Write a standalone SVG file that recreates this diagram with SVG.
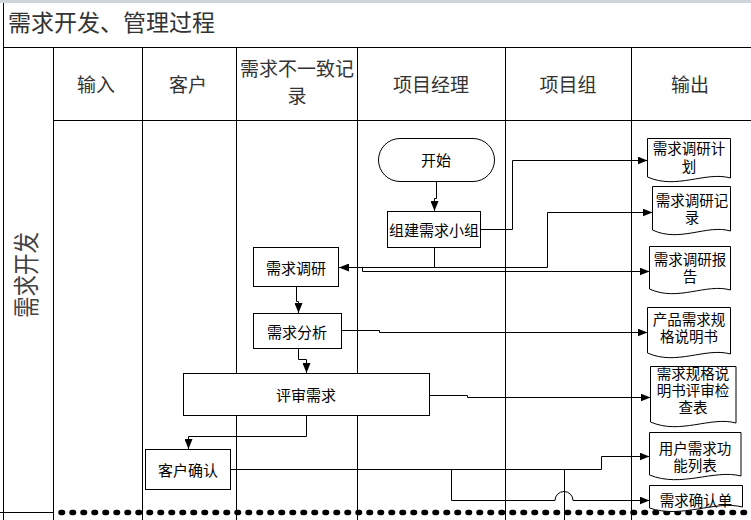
<svg xmlns="http://www.w3.org/2000/svg" width="751" height="520" viewBox="0 0 751 520">
<style>
.grid{stroke:#000;stroke-width:1;fill:none}
.box{fill:#fff;stroke:#000;stroke-width:1}
.doc{fill:#fff;stroke:#000;stroke-width:1}
.t{font-family:"Noto Sans CJK SC","Noto Sans CJK JP",sans-serif;fill:#000;text-anchor:middle;dominant-baseline:central}
.h{font-size:19px;fill:#333}
.n{font-size:15px}
.d{font-size:14.5px}
.c{stroke:#000;stroke-width:1;fill:none}
.ca{stroke:#000;stroke-width:1;fill:none;marker-end:url(#arr)}
</style>
<defs>
<marker id="arr" viewBox="0 0 10 8" refX="10" refY="4" markerWidth="10" markerHeight="8" markerUnits="userSpaceOnUse" orient="auto">
<path d="M0,0 L10,4 L0,8 Z" fill="#000"/>
</marker>
</defs>
<rect x="0" y="0" width="751" height="520" fill="#fff"/>
<rect x="0" y="0" width="751" height="3" fill="#d0d4dc"/>

<g id="frame">
<path class="grid" d="M3.5,3 V520 M3,47.5 H751 M53.5,47 V520 M142.5,47 V520 M236.5,47 V520 M357.5,47 V520 M505.5,47 V520 M631.5,47 V520 M53,120.5 H751 M0,512.5 H53"/>
<line x1="61" y1="512.5" x2="751" y2="512.5" stroke="#000" stroke-width="5.5" stroke-linecap="round" stroke-dasharray="1.5 9.5"/>
<text class="t" x="8" y="21" style="font-size:23px;fill:#333;text-anchor:start">需求开发、管理过程</text>
<text class="t" transform="translate(24,275) rotate(-90)" style="font-size:26px;fill:#444" textLength="86" lengthAdjust="spacingAndGlyphs">需求开发</text>
<text class="t h" x="96" y="83">输入</text>
<text class="t h" x="188" y="83">客户</text>
<text class="t h" x="297" y="67">需求不一致记<tspan x="297" y="94">录</tspan></text>
<text class="t h" x="431" y="83">项目经理</text>
<text class="t h" x="568" y="83">项目组</text>
<text class="t h" x="690" y="83">输出</text>
</g>

<g id="connectors">
<path class="ca" d="M436.5,182 V198.5 H434.5 V211"/>
<path class="ca" d="M481,229.5 H512.5 V160.5 H647.5"/>
<path class="ca" d="M434.5,248 V267.5 H339"/>
<path class="ca" d="M434.5,267.5 H547.5 V212.5 H652.5"/>
<path class="ca" d="M362.5,267.5 V271.5 H649.5"/>
<path class="ca" d="M296.5,287 V301.5 H298.5 V313"/>
<path class="ca" d="M341,330.5 H379.5 V332.5 H647.5"/>
<path class="ca" d="M298.5,348 V359.5 H306.5 V373"/>
<path class="ca" d="M429,395.5 H467.5 V397.5 H650.5"/>
<path class="ca" d="M306.5,416 V436.5 H188.5 V449"/>
<path class="ca" d="M230,469.5 H601.5 V456.5 H649.5"/>
<path class="ca" d="M451.5,469.5 V500.5 H555 A9,9 0 0 1 573,500.5 H649.5"/>
<path class="c" d="M564.5,469.5 V520"/>
</g>

<g id="start">
<rect class="box" x="378.5" y="138.5" width="116" height="43" rx="21.5"/>
<text class="t n" x="436" y="159">开始</text>
</g>
<g id="team">
<rect class="box" x="387.5" y="211.5" width="93" height="36"/>
<text class="t n" x="434" y="229">组建需求小组</text>
</g>
<g id="research">
<rect class="box" x="253.5" y="247.5" width="85" height="39"/>
<text class="t n" x="296" y="267">需求调研</text>
</g>
<g id="analysis">
<rect class="box" x="253.5" y="313.5" width="88" height="35"/>
<text class="t n" x="297" y="331">需求分析</text>
</g>
<g id="review">
<rect class="box" x="183.5" y="373.5" width="246" height="42"/>
<text class="t n" x="306" y="394">评审需求</text>
</g>
<g id="confirm">
<rect class="box" x="145.5" y="449.5" width="85" height="40"/>
<text class="t n" x="188" y="469">客户确认</text>
</g>

<g id="doc1">
<path class="doc" d="M647.5,138.5 H730.5 V178 C705.6,171 676.5,190 647.5,177 Z"/>
<text class="t d" x="689" y="147">需求调研计<tspan x="689" y="165">划</tspan></text>
</g>
<g id="doc2">
<path class="doc" d="M652.5,186.5 H730.5 V231 C707,224 679.8,243 652.5,230 Z"/>
<text class="t d" x="692" y="199">需求调研记<tspan x="692" y="216">录</tspan></text>
</g>
<g id="doc3">
<path class="doc" d="M649.5,246.5 H730.5 V290 C706,283 677.8,302 649.5,289 Z"/>
<text class="t d" x="690" y="258">需求调研报<tspan x="690" y="275">告</tspan></text>
</g>
<g id="doc4">
<path class="doc" d="M647.5,307.5 H730.5 V354 C705.6,347 676.5,366 647.5,353 Z"/>
<text class="t d" x="689" y="318">产品需求规<tspan x="689" y="335">格说明书</tspan></text>
</g>
<g id="doc5">
<path class="doc" d="M650.5,366.5 H736 V423 C710.4,416 680.4,435 650.5,422 Z"/>
<text class="t d" x="693" y="372">需求规格说<tspan x="693" y="389">明书评审检</tspan><tspan x="693" y="406">查表</tspan></text>
</g>
<g id="doc6">
<path class="doc" d="M649.5,432.5 H741 V476 C713.6,469 681.5,488 649.5,475 Z"/>
<text class="t d" x="695" y="447">用户需求功<tspan x="695" y="464">能列表</tspan></text>
</g>
<g id="doc7">
<path class="doc" d="M649.5,485.5 H742.5 V507 C714.6,500 682,519 649.5,508 Z"/>
<text class="t d" x="696" y="499">需求确认单</text>
</g>
</svg>
